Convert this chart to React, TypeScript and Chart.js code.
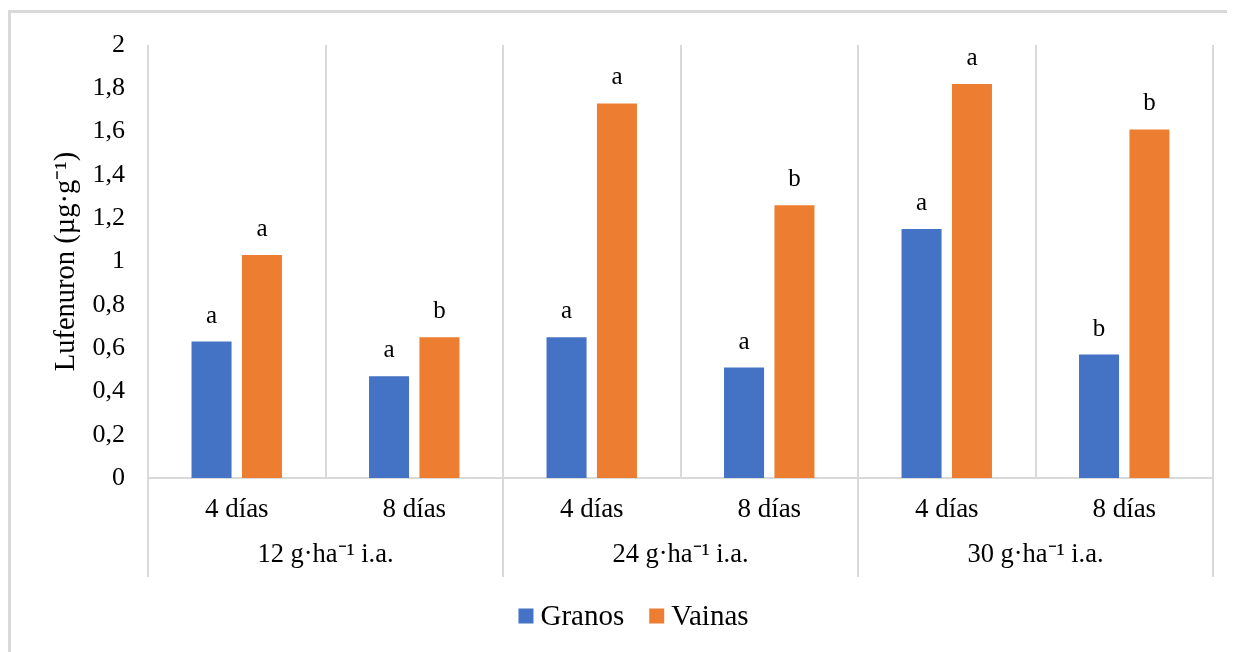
import React, { useEffect, useRef } from "react";
import { Chart, registerables } from "chart.js";

Chart.register(...registerables);

const categories = ["4 días", "8 días", "4 días", "8 días", "4 días", "8 días"];
const groups = ["12 g·ha⁻¹ i.a.", "24 g·ha⁻¹ i.a.", "30 g·ha⁻¹ i.a."];
const granos = [0.63, 0.47, 0.65, 0.51, 1.15, 0.57];
const vainas = [1.03, 0.65, 1.73, 1.26, 1.82, 1.61];
const lettersGranos = ["a", "a", "a", "a", "a", "b"];
const lettersVainas = ["a", "b", "a", "b", "a", "b"];
const seriesNames = ["Granos", "Vainas"];
const seriesColors = ["#4472C4", "#ED7D31"];
const yTitle = "Lufenuron (µg·g⁻¹)";

const SERIF = "'Liberation Serif', 'Times New Roman', serif";
const GRID = "#d9d9d9";

const extrasPlugin = {
  id: "extras",
  beforeDraw(chart: any) {
    const ctx = chart.ctx;
    ctx.save();
    ctx.fillStyle = GRID;
    ctx.fillRect(0, 2, chart.width, 3);
    ctx.fillRect(0, 2, 3, chart.height);
    ctx.restore();
  },
  afterDraw(chart: any) {
    const ctx = chart.ctx;
    const area = chart.chartArea;
    const x = chart.scales.x;
    ctx.save();
    // letters above bars
    const letterSets = [lettersGranos, lettersVainas];
    ctx.font = `25px ${SERIF}`;
    ctx.fillStyle = "#000";
    ctx.textAlign = "center";
    ctx.textBaseline = "alphabetic";
    chart.data.datasets.forEach((ds: any, di: number) => {
      const meta = chart.getDatasetMeta(di);
      meta.data.forEach((bar: any, i: number) => {
        ctx.fillText(letterSets[di][i], bar.x, bar.y - 19);
      });
    });
    // group boundary lines and group labels
    const n = categories.length;
    const per = n / groups.length;
    const edge = (k: number) => {
      if (k <= 0) return area.left;
      if (k >= n) return area.right;
      return (x.getPixelForValue(k - 1) + x.getPixelForValue(k)) / 2;
    };
    ctx.strokeStyle = GRID;
    ctx.lineWidth = 2;
    for (let g = 0; g <= groups.length; g++) {
      const px = edge(g * per);
      ctx.beginPath();
      ctx.moveTo(px, area.bottom);
      ctx.lineTo(px, area.bottom + 99);
      ctx.stroke();
    }
    ctx.font = `26.5px ${SERIF}`;
    ctx.fillStyle = "#000";
    ctx.textBaseline = "middle";
    groups.forEach((g, gi) => {
      const cx = (edge(gi * per) + edge((gi + 1) * per)) / 2;
      ctx.fillText(g, cx, area.bottom + 77);
    });
    // legend
    ctx.font = `29px ${SERIF}`;
    const box = 15;
    const gapBoxText = 7;
    const gapItems = 25;
    const widths = seriesNames.map((s) => ctx.measureText(s).width);
    const total = widths.reduce((a, w) => a + box + gapBoxText + w, 0) + gapItems * (seriesNames.length - 1);
    let lx = chart.width / 2 + 12 - total / 2;
    const ly = area.bottom + 138;
    ctx.textAlign = "left";
    seriesNames.forEach((s, i) => {
      ctx.fillStyle = seriesColors[i];
      ctx.fillRect(lx, ly - box / 2, box, box);
      ctx.fillStyle = "#000";
      ctx.fillText(s, lx + box + gapBoxText, ly + 1);
      lx += box + gapBoxText + widths[i] + gapItems;
    });
    ctx.restore();
  },
};

export default function App() {
  const ref = useRef<HTMLCanvasElement>(null);
  useEffect(() => {
    document.documentElement.style.overflow = "hidden";
    const chart = new Chart(ref.current as HTMLCanvasElement, {
      type: "bar",
      data: {
        labels: categories,
        datasets: [
          {
            label: seriesNames[0],
            data: granos,
            backgroundColor: seriesColors[0],
            categoryPercentage: 0.568,
            barPercentage: 0.794,
          },
          {
            label: seriesNames[1],
            data: vainas,
            backgroundColor: seriesColors[1],
            categoryPercentage: 0.568,
            barPercentage: 0.794,
          },
        ],
      },
      options: {
        responsive: false,
        animation: false,
        devicePixelRatio: 1,
        layout: { padding: { top: 37, right: 22, left: 0, bottom: 0 } },
        plugins: { legend: { display: false }, tooltip: { enabled: false } },
        scales: {
          x: {
            grid: { display: true, offset: true, color: GRID, lineWidth: 2, drawTicks: false },
            border: { display: true, color: GRID, width: 2 },
            ticks: {
              font: { family: SERIF, size: 27 },
              color: "#000",
              padding: 16,
              maxRotation: 0,
              autoSkip: false,
            },
            afterFit: (s: any) => {
              s.height = 174;
            },
          },
          y: {
            min: 0,
            max: 2,
            grid: { display: false },
            border: { display: false },
            ticks: {
              stepSize: 0.2,
              font: { family: SERIF, size: 26 },
              color: "#000",
              padding: 15,
              callback: (v: any) => String(Math.round(Number(v) * 10) / 10).replace(".", ","),
            },
            title: {
              display: true,
              text: yTitle,
              font: { family: SERIF, size: 28.5 },
              color: "#000",
              padding: { top: 41, bottom: 0 },
            },
            afterFit: (s: any) => {
              s.width = 140;
            },
          },
        },
      },
      plugins: [extrasPlugin],
    });
    return () => chart.destroy();
  }, []);
  return (
    <div style={{ width: 1227, height: 644 }}>
      <canvas ref={ref} width={1227} height={644} style={{ display: "block" }} />
    </div>
  );
}
